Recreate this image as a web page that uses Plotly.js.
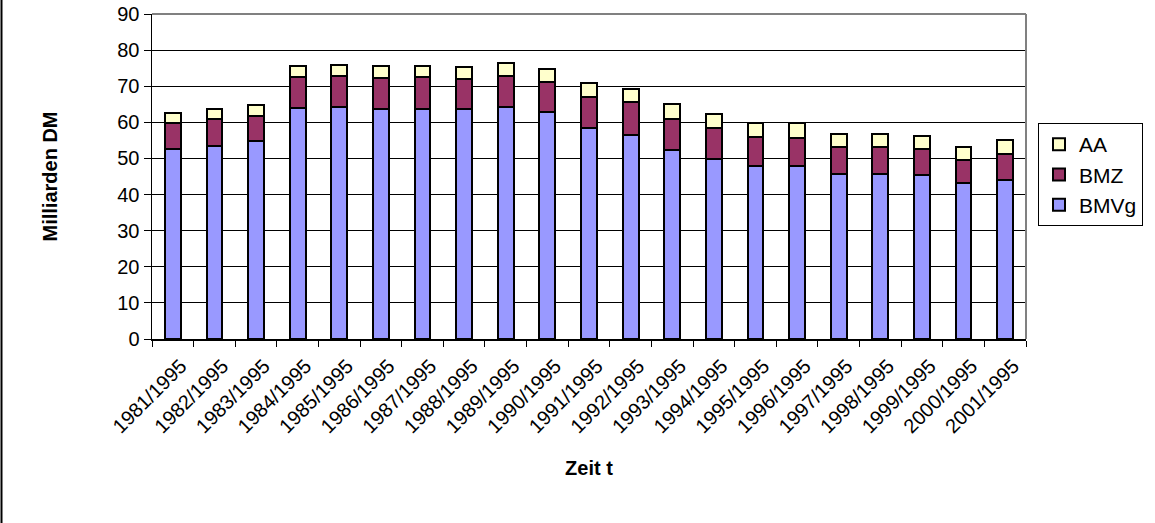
<!DOCTYPE html>
<html>
<head>
<meta charset="utf-8">
<script src="https://cdn.plot.ly/plotly-3.0.1.min.js"></script>
<style>html,body{margin:0;padding:0;background:#fff;}#chart{width:1155px;height:523px;}</style>
</head>
<body>
<div id="chart"></div>
<script>
const categories = ["1981/1995","1982/1995","1983/1995","1984/1995","1985/1995","1986/1995","1987/1995","1988/1995","1989/1995","1990/1995","1991/1995","1992/1995","1993/1995","1994/1995","1995/1995","1996/1995","1997/1995","1998/1995","1999/1995","2000/1995","2001/1995"];
const BMVg = [52.6,53.5,54.8,63.9,64.2,63.8,63.8,63.6,64.2,62.8,58.4,56.6,52.3,49.8,47.9,47.8,45.6,45.6,45.3,43.1,44.0];
const BMZ  = [7.3,7.3,7.0,8.6,8.5,8.6,8.7,8.4,8.5,8.5,8.7,9.0,8.7,8.6,8.1,7.9,7.5,7.5,7.4,6.6,7.1];
const AA   = [2.6,2.8,3.0,3.1,3.2,3.2,3.2,3.3,3.6,3.5,3.9,3.7,4.0,4.0,3.7,4.0,3.6,3.6,3.6,3.5,3.9];

const font = "Arial, 'Liberation Sans', sans-serif";
const line = {color:"#000000", width:2};
const traces = [
  {type:"bar", name:"BMVg", x:categories, y:BMVg, marker:{color:"#9999FF", line:line}},
  {type:"bar", name:"BMZ",  x:categories, y:BMZ,  marker:{color:"#993366", line:line}},
  {type:"bar", name:"AA",   x:categories, y:AA,   marker:{color:"#FFFFCC", line:line}}
];
const L=152, R=129, T=14, B=184, W=1155, H=523;
const pw = W-L-R, ph = H-T-B;
const px = v => (v-L)/pw, py = v => (H-B-v)/ph;
const layout = {
  width:W, height:H,
  margin:{l:L, r:R, t:T, b:B, pad:0, autoexpand:false},
  paper_bgcolor:"#ffffff", plot_bgcolor:"#ffffff",
  barmode:"stack", bargap:0.62,
  font:{family:font, size:20, color:"#000"},
  showlegend:true,
  legend:{x:px(1038), y:py(123), xanchor:"left", yanchor:"top", traceorder:"reversed", itemwidth:30,
          bordercolor:"#000", borderwidth:1, font:{family:font, size:21, color:"#000"}, bgcolor:"#fff"},
  xaxis:{type:"category", tickson:"boundaries", ticks:"outside", ticklen:6, tickcolor:"#000", tickwidth:1,
         showline:true, linecolor:"#000", linewidth:1.5, tickangle:-45, showgrid:false,
         ticklabelshift:8, ticklabelstandoff:6,
         tickfont:{family:font, size:20, color:"#000"},
         title:{text:"Zeit t", font:{family:font, size:20, color:"#000", weight:"bold"}, standoff:24}},
  yaxis:{range:[0,90], dtick:10, ticks:"outside", ticklen:7, tickcolor:"#000", tickwidth:1,
         showline:true, linecolor:"#000", linewidth:1.5, showgrid:true, gridcolor:"#000", gridwidth:1,
         zeroline:false, tickfont:{family:font, size:20, color:"#000"},
         title:{text:"Milliarden DM", font:{family:font, size:20, color:"#000", weight:"bold"}, standoff:54}},
  shapes:[
    {type:"line", xref:"paper", yref:"paper", x0:0, x1:1, y0:1, y1:1, line:{color:"#808080", width:2}},
    {type:"line", xref:"paper", yref:"paper", x0:1, x1:1, y0:0, y1:1, line:{color:"#808080", width:2}},
    {type:"line", xref:"paper", yref:"paper", x0:px(1.5), x1:px(1.5), y0:py(523), y1:py(0), line:{color:"#000", width:2}}
  ]
};
Plotly.newPlot("chart", traces, layout, {displayModeBar:false, staticPlot:true});
</script>
</body>
</html>
